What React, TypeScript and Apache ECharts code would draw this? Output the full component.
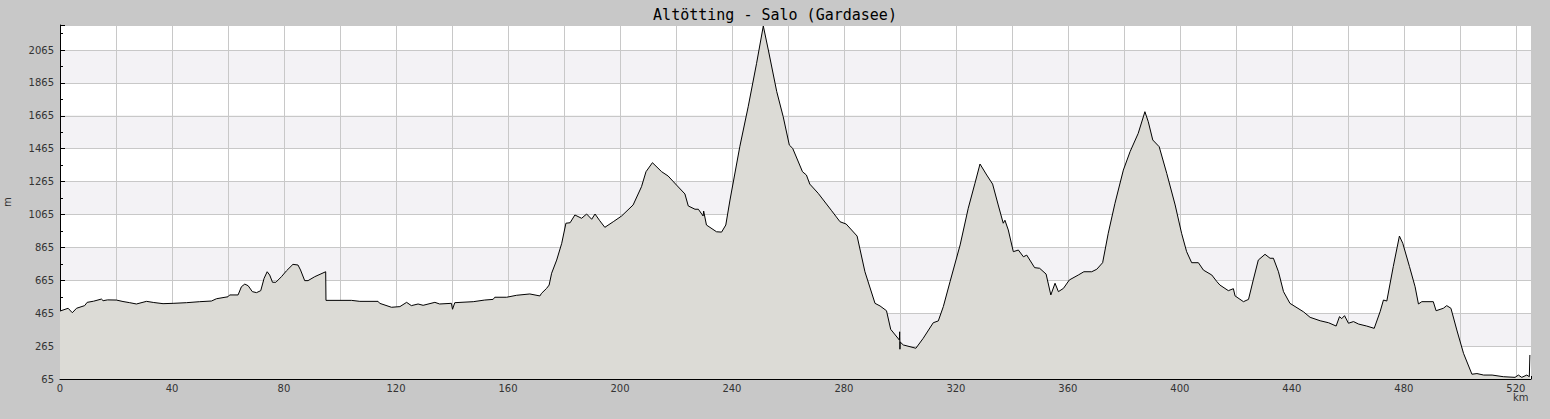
import { useEffect, useRef } from "react";
import * as echarts from "echarts";

const chartTitle = "Altötting - Salo (Gardasee)";

// distance along the route (km) and elevation (m)
const distanceKm = [
  0, 2.9, 4.4, 5.9, 8.8, 9.7, 12, 14.8, 15.4, 17, 20.1, 22.5, 24.9, 27.3, 30.9, 33.5, 36.8,
  40.4, 45.2, 49.9, 54.1, 55.9, 60.0, 60.6, 63.6, 64.8, 66.0, 67.2, 68.7, 70.2, 71.7, 72.9,
  74.0, 74.9, 75.9, 77.1, 79.1, 80.9, 83.2, 85.0, 85.9, 87.4, 88.6, 91.0, 94.9, 95.0, 104.1,
  107.1, 113.6, 114.2, 118.4, 121.4, 123.8, 125.5, 127.9, 129.7, 133.9, 135.6, 139.8, 140.2,
  141.0, 147.6, 151.7, 154.7, 155.3, 159.5, 163.1, 167.8, 171.4, 172.0, 173.8, 174.7, 175.6,
  177.4, 179.2, 180.7, 182.2, 183.9, 186.3, 188.1, 189.9, 191.1, 192.8, 194.6, 197.6, 200.6,
  204.7, 207.7, 209.3, 211.6, 214.9, 217.2, 220.2, 223.2, 224.4, 226.8, 228.0, 229.7, 229.9,
  230.9, 234.5, 236.3, 237.8, 239.3, 242.8, 245.8, 248.8, 251.2, 253.0, 256.0, 258.3, 260.5,
  261.7, 265.2, 266.6, 267.8, 270.8, 275.6, 278.6, 280.8, 284.7, 287.5, 291.1, 292.9, 295.2,
  296.7, 299.8, 299.9, 300.0, 300.1, 301.2, 305.7, 308.3, 311.9, 313.7, 315.5, 317.9, 321.5,
  324.4, 326.8, 328.6, 331.0, 333.1, 335.1, 336.9, 337.5, 338.7, 340.5, 342.3, 344.1, 345.3,
  348.1, 349.9, 352.2, 353.9, 355.4, 356.6, 358.4, 360.5, 363.7, 365.7, 368.5, 370.3, 372.4,
  374.4, 376.8, 379.8, 382.2, 385.1, 387.5, 388.7, 390.3, 392.6, 395.3, 398.3, 400.6, 402.4,
  404.2, 406.6, 408.4, 411.4, 413.2, 414.3, 417.3, 419.1, 419.7, 422.7, 424.5, 426.2, 428.0,
  430.4, 432.2, 433.4, 435.2, 437.0, 439.3, 444.1, 446.5, 450.1, 453.1, 455.8, 457.0, 457.8,
  458.8, 460.2, 462.0, 463.8, 466.7, 469.4, 471.5, 472.7, 473.9, 476.2, 478.4, 479.6, 482.0,
  484.0, 485.2, 486.4, 490.5, 491.5, 494.1, 495.3, 496.8, 498.9, 501.3, 504.3, 506.1, 508.5,
  511.5, 515.5, 519.7, 520.9, 522.1, 523.9, 524.8, 525.0,
];

const elevationM = [
  478, 495, 468, 495, 511, 531, 538, 551, 541, 546, 545, 536, 529, 521, 537, 530, 523,
  525, 529, 535, 539, 553, 565, 576, 576, 626, 642, 632, 596, 590, 602, 677,
  717, 697, 653, 653, 687, 723, 762, 758, 728, 663, 663, 687, 717, 543, 543,
  537, 537, 525, 501, 505, 531, 511, 521, 513, 531, 521, 525, 489,
  529, 535, 545, 549, 562, 562, 574, 582, 570, 586, 616, 636, 708,
  788, 890, 1012, 1015, 1062, 1042, 1068, 1036, 1068, 1027, 987, 1021, 1056,
  1123, 1234, 1325, 1380, 1325, 1299, 1244, 1190, 1117, 1097, 1097, 1056, 1086,
  1001, 960, 958, 1001, 1153, 1477, 1720, 1984, 2211, 2065, 1812, 1660, 1487,
  1467, 1325, 1305, 1250, 1194, 1088, 1021, 1007, 934, 717, 525, 509, 480,
  367, 302, 352, 246, 290, 272, 252, 312, 407, 418, 505, 657, 880,
  1103, 1255, 1372, 1305, 1250, 1123, 1012, 1030, 971, 839, 849, 808, 818,
  742, 738, 703, 576, 647, 596, 616, 667, 697, 717, 717, 732, 772,
  951, 1133, 1335, 1447, 1558, 1690, 1629, 1518, 1477, 1315, 1123, 951, 839,
  772, 772, 727, 697, 657, 636, 602, 614, 570, 535, 549, 667, 788,
  823, 799, 799, 717, 596, 525, 474, 440, 419, 407, 387, 444, 432,
  450, 404, 414, 399, 387, 373, 474, 545, 539, 748, 934, 890, 748,
  626, 521, 535, 535, 480, 495, 511, 495, 363, 221, 94, 98, 89,
  89, 79, 75, 89, 75, 89, 79, 211,
];

const xMax = 525.4;
const xStep = 20;
const xLabelStep = 40;
const yMin = 65;
const yMax = 2217;
const yStep = 200;

const App: React.FC = () => {
  const chartRef = useRef<HTMLDivElement>(null);

  useEffect(() => {
    document.body.style.margin = "0";
    if (!chartRef.current) return;
    const chart = echarts.init(chartRef.current, undefined, { renderer: "svg" });

    const axisFont = { fontFamily: "DejaVu Sans", fontSize: 10, color: "#333" };

    chart.setOption({
      animation: false,
      backgroundColor: "#c8c8c8",
      title: {
        text: chartTitle,
        left: "center",
        top: 2,
        textStyle: {
          fontFamily: "DejaVu Sans Mono",
          fontSize: 15,
          fontWeight: "normal",
          color: "#000",
        },
      },
      grid: {
        left: 60,
        right: 19,
        top: 25,
        bottom: 40,
        containLabel: false,
        outerBoundsMode: "none",
      },
      xAxis: {
        type: "value",
        min: 0,
        max: xMax,
        interval: xStep,
        axisLine: { show: true, lineStyle: { color: "#000", width: 1 } },
        axisTick: { show: true, inside: true, length: 3, lineStyle: { color: "#000" } },
        minorTick: { show: true, splitNumber: 2, length: 3, lineStyle: { color: "#000" } },
        axisLabel: {
          ...axisFont,
          margin: 4,
          showMaxLabel: false,
          formatter: (v: number) => (v % xLabelStep === 0 ? String(v) : ""),
        },
        splitLine: { show: true, lineStyle: { color: "#c8c8c8", width: 1 } },
      },
      yAxis: {
        type: "value",
        min: yMin,
        max: yMax,
        interval: yStep,
        name: "m",
        nameLocation: "middle",
        nameGap: 48,
        nameRotate: 90,
        nameTextStyle: { fontFamily: "DejaVu Sans", fontSize: 10, color: "#333" },
        axisLine: { show: true, lineStyle: { color: "#000", width: 1 } },
        axisTick: { show: true, inside: true, length: 5, lineStyle: { color: "#000" } },
        minorTick: { show: true, splitNumber: 2, length: 3, lineStyle: { color: "#000" } },
        axisLabel: {
          ...axisFont,
          margin: 6,
          showMaxLabel: false,
          formatter: (v: number) => String(v),
        },
        splitLine: { show: true, lineStyle: { color: "#c8c8c8", width: 1 } },
        splitArea: { show: true, areaStyle: { color: ["#ffffff", "#f3f2f5"] } },
      },
      graphic: [
        {
          type: "text",
          left: 1513,
          top: 392,
          style: { text: "km", fontFamily: "DejaVu Sans", fontSize: 10, fill: "#333" },
        },
      ],
      series: [
        {
          type: "line",
          data: distanceKm.map((d, i) => [d, elevationM[i]]),
          showSymbol: false,
          symbol: "none",
          lineStyle: { color: "#000", width: 1 },
          areaStyle: { color: "#dcdbd6", opacity: 1, origin: "start" },
          z: 3,
        },
      ],
    });

    return () => {
      chart.dispose();
    };
  }, []);

  return <div ref={chartRef} style={{ width: "1550px", height: "419px" }} />;
};

export default App;
